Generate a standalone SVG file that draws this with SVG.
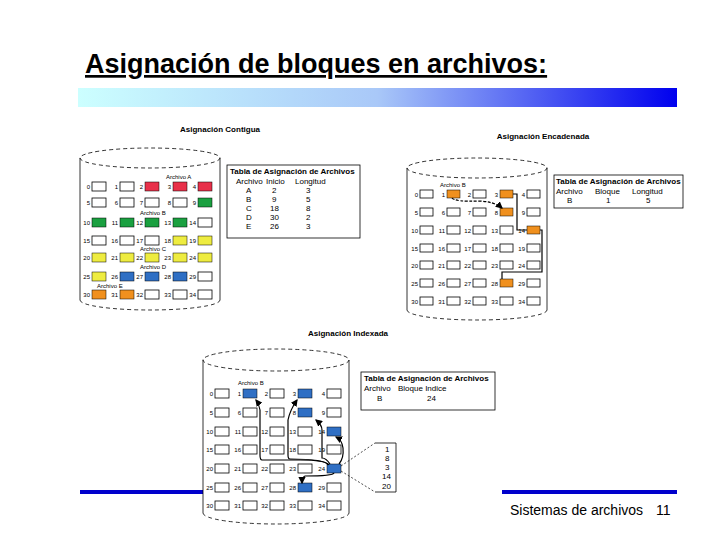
<svg xmlns="http://www.w3.org/2000/svg" width="720" height="540" viewBox="0 0 720 540">
<defs>
<linearGradient id="g" x1="0" x2="1"><stop offset="0" stop-color="#ccffff"/><stop offset="0.5" stop-color="#a9c8f8"/><stop offset="1" stop-color="#0000ee"/></linearGradient>
<marker id="a" markerWidth="6" markerHeight="6" refX="5" refY="3" orient="auto"><path d="M0,0 L6,3 L0,6z" fill="#000"/></marker>
</defs>
<style>
text{font-family:"Liberation Sans",Arial,sans-serif;fill:#000}
.b{fill:#fff;stroke:#000;stroke-width:0.8}
.r{fill:#e8304a;stroke:#000;stroke-width:0.5}
.gr{fill:#1aa040;stroke:#000;stroke-width:0.5}
.y{fill:#eeec40;stroke:#000;stroke-width:0.5}
.bl{fill:#2f6fc4;stroke:#000;stroke-width:0.5}
.o{fill:#f0901e;stroke:#000;stroke-width:0.5}
.cyl{fill:none;stroke:#000;stroke-width:0.8}
.d{fill:none;stroke:#000;stroke-width:0.8;stroke-dasharray:4 3}
.n{font-size:6px;text-anchor:end}
.l{font-size:6px}
.h{font-size:8px;font-weight:bold}
.t{font-size:8px}
.tb{fill:#fff;stroke:#000;stroke-width:0.8}
.ln{fill:none;stroke:#000;stroke-width:1.2}
</style>
<rect width="720" height="540" fill="#fff"/>
<text x="85" y="73" font-size="27" font-weight="bold" text-decoration="underline">Asignación de bloques en archivos:</text>
<rect x="78" y="88" width="599" height="19" fill="url(#g)"/>
<rect x="80" y="490" width="123" height="4" fill="#0000cc"/>
<rect x="502" y="490" width="175" height="4" fill="#0000cc"/>
<text x="510" y="515" font-size="14">Sistemas de archivos</text>
<text x="656" y="515" font-size="14">11</text>

<g id="contigua">
<text x="220" y="132" class="h" text-anchor="middle">Asignación Contigua</text>
<ellipse cx="150" cy="158" rx="70" ry="10" class="d"/>
<path d="M80,158 V300 M220,158 V300" class="cyl"/>
<path d="M80,300 A70,10 0 0 0 220,300" class="d"/>
<g>
<text class="n" x="90" y="189">0</text><rect class="b" x="92" y="182" width="14" height="9"/>
<text class="n" x="118" y="189">1</text><rect class="b" x="120" y="182" width="14" height="9"/>
<text class="n" x="143" y="189">2</text><rect class="r" x="145" y="182" width="14" height="9"/>
<text class="n" x="171" y="189">3</text><rect class="r" x="173" y="182" width="14" height="9"/>
<text class="n" x="196" y="189">4</text><rect class="r" x="198" y="182" width="14" height="9"/>
<text class="n" x="90" y="205">5</text><rect class="b" x="92" y="198" width="14" height="9"/>
<text class="n" x="118" y="205">6</text><rect class="b" x="120" y="198" width="14" height="9"/>
<text class="n" x="143" y="205">7</text><rect class="b" x="145" y="198" width="14" height="9"/>
<text class="n" x="171" y="205">8</text><rect class="b" x="173" y="198" width="14" height="9"/>
<text class="n" x="196" y="205">9</text><rect class="gr" x="198" y="198" width="14" height="9"/>
<text class="n" x="90" y="225">10</text><rect class="gr" x="92" y="218" width="14" height="9"/>
<text class="n" x="118" y="225">11</text><rect class="gr" x="120" y="218" width="14" height="9"/>
<text class="n" x="143" y="225">12</text><rect class="gr" x="145" y="218" width="14" height="9"/>
<text class="n" x="171" y="225">13</text><rect class="gr" x="173" y="218" width="14" height="9"/>
<text class="n" x="196" y="225">14</text><rect class="b" x="198" y="218" width="14" height="9"/>
<text class="n" x="90" y="243">15</text><rect class="b" x="92" y="236" width="14" height="9"/>
<text class="n" x="118" y="243">16</text><rect class="b" x="120" y="236" width="14" height="9"/>
<text class="n" x="143" y="243">17</text><rect class="b" x="145" y="236" width="14" height="9"/>
<text class="n" x="171" y="243">18</text><rect class="y" x="173" y="236" width="14" height="9"/>
<text class="n" x="196" y="243">19</text><rect class="y" x="198" y="236" width="14" height="9"/>
<text class="n" x="90" y="260">20</text><rect class="y" x="92" y="253" width="14" height="9"/>
<text class="n" x="118" y="260">21</text><rect class="y" x="120" y="253" width="14" height="9"/>
<text class="n" x="143" y="260">22</text><rect class="y" x="145" y="253" width="14" height="9"/>
<text class="n" x="171" y="260">23</text><rect class="y" x="173" y="253" width="14" height="9"/>
<text class="n" x="196" y="260">24</text><rect class="y" x="198" y="253" width="14" height="9"/>
<text class="n" x="90" y="279">25</text><rect class="y" x="92" y="272" width="14" height="9"/>
<text class="n" x="118" y="279">26</text><rect class="bl" x="120" y="272" width="14" height="9"/>
<text class="n" x="143" y="279">27</text><rect class="bl" x="145" y="272" width="14" height="9"/>
<text class="n" x="171" y="279">28</text><rect class="bl" x="173" y="272" width="14" height="9"/>
<text class="n" x="196" y="279">29</text><rect class="b" x="198" y="272" width="14" height="9"/>
<text class="n" x="90" y="297">30</text><rect class="o" x="92" y="290" width="14" height="9"/>
<text class="n" x="118" y="297">31</text><rect class="o" x="120" y="290" width="14" height="9"/>
<text class="n" x="143" y="297">32</text><rect class="b" x="145" y="290" width="14" height="9"/>
<text class="n" x="171" y="297">33</text><rect class="b" x="173" y="290" width="14" height="9"/>
<text class="n" x="196" y="297">34</text><rect class="b" x="198" y="290" width="14" height="9"/>
<text class="l" x="166" y="179">Archivo A</text>
<text class="l" x="140" y="215">Archivo B</text>
<text class="l" x="140" y="251">Archivo C</text>
<text class="l" x="140" y="269">Archivo D</text>
<text class="l" x="97" y="288">Archivo E</text>
</g>
<g id="tabla1">
<rect class="tb" x="227" y="165" width="133" height="73"/>
<text class="h" x="230" y="174">Tabla de Asignación de Archivos</text>
<text class="t" x="236" y="184">Archivo</text><text class="t" x="266" y="184">Inicio</text><text class="t" x="295" y="184">Longitud</text>
<text class="t" x="246" y="193">A</text><text class="t" x="272" y="193">2</text><text class="t" x="306" y="193">3</text>
<text class="t" x="246" y="202">B</text><text class="t" x="272" y="202">9</text><text class="t" x="306" y="202">5</text>
<text class="t" x="246" y="211">C</text><text class="t" x="270" y="211">18</text><text class="t" x="306" y="211">8</text>
<text class="t" x="246" y="220">D</text><text class="t" x="270" y="220">30</text><text class="t" x="306" y="220">2</text>
<text class="t" x="246" y="229">E</text><text class="t" x="270" y="229">26</text><text class="t" x="306" y="229">3</text>
</g>
</g>

<g id="encadenada">
<text x="543" y="139" class="h" text-anchor="middle">Asignación Encadenada</text>
<ellipse cx="477" cy="168" rx="70" ry="10" class="d"/>
<path d="M407,168 V310 M547,168 V310" class="cyl"/>
<path d="M407,310 A70,10 0 0 0 547,310" class="d"/>
<text class="n" x="418" y="197">0</text><rect class="b" x="420" y="190" width="13" height="8"/>
<text class="n" x="445" y="197">1</text><rect class="o" x="447" y="190" width="13" height="8"/>
<text class="n" x="471" y="197">2</text><rect class="b" x="473" y="190" width="13" height="8"/>
<text class="n" x="498" y="197">3</text><rect class="o" x="500" y="190" width="13" height="8"/>
<text class="n" x="525" y="197">4</text><rect class="b" x="527" y="190" width="13" height="8"/>
<text class="n" x="418" y="215">5</text><rect class="b" x="420" y="208" width="13" height="8"/>
<text class="n" x="445" y="215">6</text><rect class="b" x="447" y="208" width="13" height="8"/>
<text class="n" x="471" y="215">7</text><rect class="b" x="473" y="208" width="13" height="8"/>
<text class="n" x="498" y="215">8</text><rect class="o" x="500" y="208" width="13" height="8"/>
<text class="n" x="525" y="215">9</text><rect class="b" x="527" y="208" width="13" height="8"/>
<text class="n" x="418" y="233">10</text><rect class="b" x="420" y="226" width="13" height="8"/>
<text class="n" x="445" y="233">11</text><rect class="b" x="447" y="226" width="13" height="8"/>
<text class="n" x="471" y="233">12</text><rect class="b" x="473" y="226" width="13" height="8"/>
<text class="n" x="498" y="233">13</text><rect class="b" x="500" y="226" width="13" height="8"/>
<text class="n" x="525" y="233">14</text><rect class="o" x="527" y="226" width="13" height="8"/>
<text class="n" x="418" y="251">15</text><rect class="b" x="420" y="244" width="13" height="8"/>
<text class="n" x="445" y="251">16</text><rect class="b" x="447" y="244" width="13" height="8"/>
<text class="n" x="471" y="251">17</text><rect class="b" x="473" y="244" width="13" height="8"/>
<text class="n" x="498" y="251">18</text><rect class="b" x="500" y="244" width="13" height="8"/>
<text class="n" x="525" y="251">19</text><rect class="b" x="527" y="244" width="13" height="8"/>
<text class="n" x="418" y="268">20</text><rect class="b" x="420" y="261" width="13" height="8"/>
<text class="n" x="445" y="268">21</text><rect class="b" x="447" y="261" width="13" height="8"/>
<text class="n" x="471" y="268">22</text><rect class="b" x="473" y="261" width="13" height="8"/>
<text class="n" x="498" y="268">23</text><rect class="b" x="500" y="261" width="13" height="8"/>
<text class="n" x="525" y="268">24</text><rect class="b" x="527" y="261" width="13" height="8"/>
<text class="n" x="418" y="286">25</text><rect class="b" x="420" y="279" width="13" height="8"/>
<text class="n" x="445" y="286">26</text><rect class="b" x="447" y="279" width="13" height="8"/>
<text class="n" x="471" y="286">27</text><rect class="b" x="473" y="279" width="13" height="8"/>
<text class="n" x="498" y="286">28</text><rect class="o" x="500" y="279" width="13" height="8"/>
<text class="n" x="525" y="286">29</text><rect class="b" x="527" y="279" width="13" height="8"/>
<text class="n" x="418" y="304">30</text><rect class="b" x="420" y="297" width="13" height="8"/>
<text class="n" x="445" y="304">31</text><rect class="b" x="447" y="297" width="13" height="8"/>
<text class="n" x="471" y="304">32</text><rect class="b" x="473" y="297" width="13" height="8"/>
<text class="n" x="498" y="304">33</text><rect class="b" x="500" y="297" width="13" height="8"/>
<text class="n" x="525" y="304">34</text><rect class="b" x="527" y="297" width="13" height="8"/>
<text class="l" x="440" y="187">Archivo B</text>
<g id="enc-conectores">
<path class="ln" d="M452,198 Q455,202 480,201 Q495,202 502,208" stroke-dasharray="3 1.5" marker-end="url(#a)"/>
<path class="ln" d="M513,194 H517 V230 H527"/>
<path class="ln" d="M540,230 H542 V272 H502 V279"/>
</g>
<g id="tabla2">
<rect class="tb" x="554" y="175" width="129" height="33"/>
<text class="h" x="556" y="184">Tabla de Asignación de Archivos</text>
<text class="t" x="556" y="194">Archivo</text><text class="t" x="595" y="194">Bloque</text><text class="t" x="632" y="194">Longitud</text>
<text class="t" x="567" y="203">B</text><text class="t" x="606" y="203">1</text><text class="t" x="646" y="203">5</text>
</g>
</g>

<g id="indexada">
<text x="348" y="336" class="h" text-anchor="middle">Asignación Indexada</text>
<ellipse cx="276" cy="360" rx="73" ry="11" class="d"/>
<path d="M203,360 V513 M349,360 V513" class="cyl"/>
<path d="M203,513 A73,11 0 0 0 349,513" class="d"/>
<text class="n" x="213" y="396">0</text><rect class="b" x="215" y="389" width="14" height="9"/>
<text class="n" x="241" y="396">1</text><rect class="bl" x="243" y="389" width="14" height="9"/>
<text class="n" x="268" y="396">2</text><rect class="b" x="270" y="389" width="14" height="9"/>
<text class="n" x="296" y="396">3</text><rect class="bl" x="298" y="389" width="14" height="9"/>
<text class="n" x="325" y="396">4</text><rect class="b" x="327" y="389" width="14" height="9"/>
<text class="n" x="213" y="415">5</text><rect class="b" x="215" y="408" width="14" height="9"/>
<text class="n" x="241" y="415">6</text><rect class="b" x="243" y="408" width="14" height="9"/>
<text class="n" x="268" y="415">7</text><rect class="b" x="270" y="408" width="14" height="9"/>
<text class="n" x="296" y="415">8</text><rect class="bl" x="298" y="408" width="14" height="9"/>
<text class="n" x="325" y="415">9</text><rect class="b" x="327" y="408" width="14" height="9"/>
<text class="n" x="213" y="434">10</text><rect class="b" x="215" y="427" width="14" height="9"/>
<text class="n" x="241" y="434">11</text><rect class="b" x="243" y="427" width="14" height="9"/>
<text class="n" x="268" y="434">12</text><rect class="b" x="270" y="427" width="14" height="9"/>
<text class="n" x="296" y="434">13</text><rect class="b" x="298" y="427" width="14" height="9"/>
<text class="n" x="325" y="434">14</text><rect class="bl" x="327" y="427" width="14" height="9"/>
<text class="n" x="213" y="452">15</text><rect class="b" x="215" y="445" width="14" height="9"/>
<text class="n" x="241" y="452">16</text><rect class="b" x="243" y="445" width="14" height="9"/>
<text class="n" x="268" y="452">17</text><rect class="b" x="270" y="445" width="14" height="9"/>
<text class="n" x="296" y="452">18</text><rect class="b" x="298" y="445" width="14" height="9"/>
<text class="n" x="325" y="452">19</text><rect class="b" x="327" y="445" width="14" height="9"/>
<text class="n" x="213" y="471">20</text><rect class="b" x="215" y="464" width="14" height="9"/>
<text class="n" x="241" y="471">21</text><rect class="b" x="243" y="464" width="14" height="9"/>
<text class="n" x="268" y="471">22</text><rect class="b" x="270" y="464" width="14" height="9"/>
<text class="n" x="296" y="471">23</text><rect class="b" x="298" y="464" width="14" height="9"/>
<text class="n" x="325" y="471">24</text><rect class="bl" x="327" y="464" width="14" height="9"/>
<text class="n" x="213" y="490">25</text><rect class="b" x="215" y="483" width="14" height="9"/>
<text class="n" x="241" y="490">26</text><rect class="b" x="243" y="483" width="14" height="9"/>
<text class="n" x="268" y="490">27</text><rect class="b" x="270" y="483" width="14" height="9"/>
<text class="n" x="296" y="490">28</text><rect class="bl" x="298" y="483" width="14" height="9"/>
<text class="n" x="325" y="490">29</text><rect class="b" x="327" y="483" width="14" height="9"/>
<text class="n" x="213" y="508">30</text><rect class="b" x="215" y="501" width="14" height="9"/>
<text class="n" x="241" y="508">31</text><rect class="b" x="243" y="501" width="14" height="9"/>
<text class="n" x="268" y="508">32</text><rect class="b" x="270" y="501" width="14" height="9"/>
<text class="n" x="296" y="508">33</text><rect class="b" x="298" y="501" width="14" height="9"/>
<text class="n" x="325" y="508">34</text><rect class="b" x="327" y="501" width="14" height="9"/>
<text class="l" x="238" y="385">Archivo B</text>
<g id="idx-conectores">
<path class="ln" d="M328,465 Q326,460 300,460 H262 Q260,460 260,455 V410 Q259,404 256,400" marker-end="url(#a)"/>
<path class="ln" d="M329,465 Q325,459 290,459 H290 Q288,459 288,455 V420 Q290,410 297,400" marker-end="url(#a)"/>
<path class="ln" d="M330,464 Q326,458 322,458 V430 Q322,425 316,420" marker-end="url(#a)"/>
<path class="ln" d="M339,464 Q344,458 343,448 Q342,440 336,437" marker-end="url(#a)"/>
<path class="ln" d="M334,473 Q333,476 305,476 Q302,477 302,483" marker-end="url(#a)"/>
<path d="M341,466 L375,443 M341,471 L375,492" fill="none" stroke="#000" stroke-width="0.7" stroke-dasharray="2 2"/>
</g>
<g id="indice">
<path d="M375,443 H396 V492 H375" fill="none" stroke="#000" stroke-width="0.8"/>
<text class="t" x="385" y="452">1</text>
<text class="t" x="385" y="461">8</text>
<text class="t" x="385" y="470">3</text>
<text class="t" x="382" y="479">14</text>
<text class="t" x="382" y="489">20</text>
</g>
<g id="tabla3">
<rect class="tb" x="361" y="372" width="134" height="38"/>
<text class="h" x="364" y="381">Tabla de Asignación de Archivos</text>
<text class="t" x="364" y="391">Archivo</text><text class="t" x="398" y="391">Bloque Indice</text>
<text class="t" x="377" y="401">B</text><text class="t" x="427" y="401">24</text>
</g>
</g>
</svg>
